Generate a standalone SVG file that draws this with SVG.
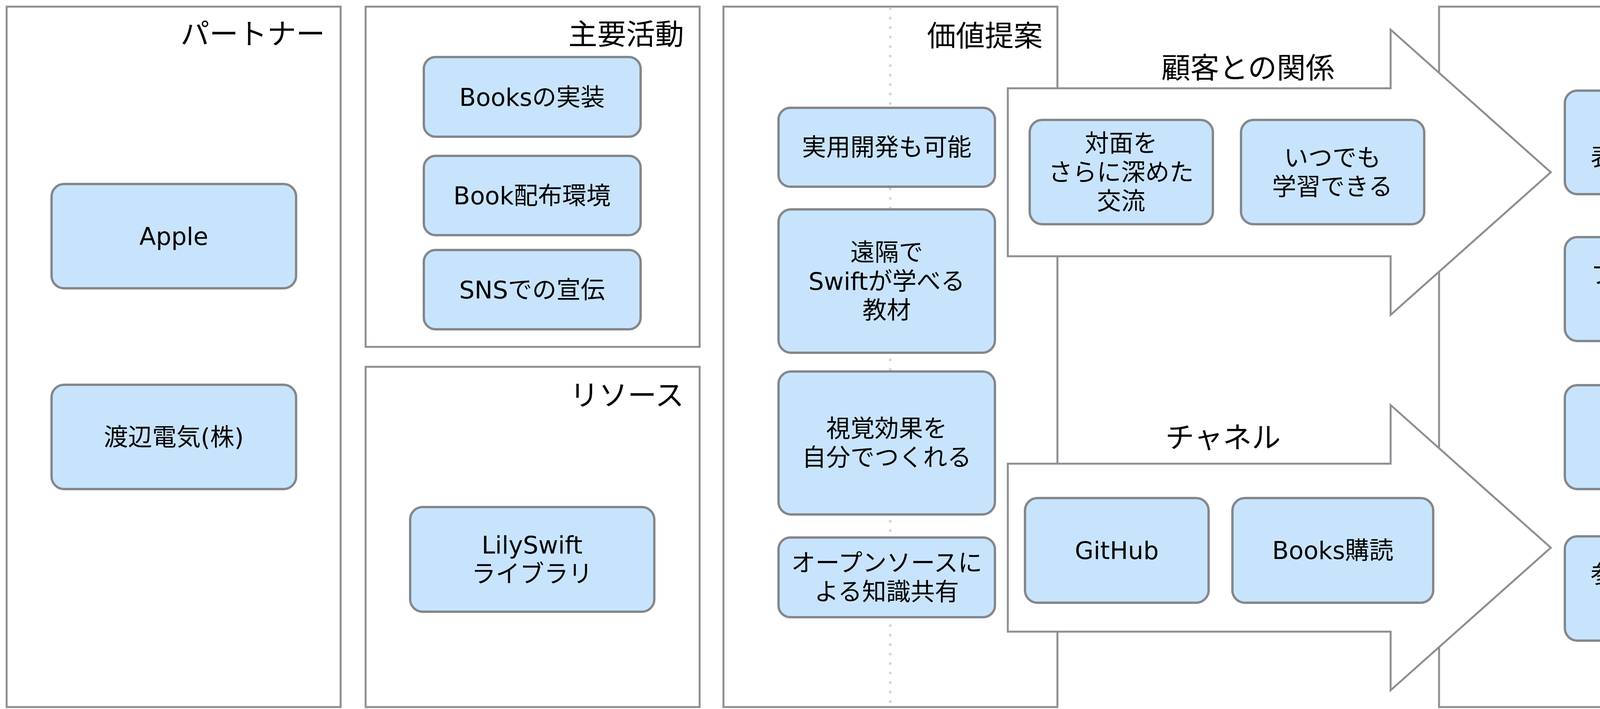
<svg xmlns="http://www.w3.org/2000/svg" width="4557" height="1815" viewBox="0 0 4557 1815">
<style>
.box{fill:#ffffff;stroke:#8c8f94;stroke-width:5}
.node{fill:#c8e4fd;stroke:#84878c;stroke-width:6}
.arrow{fill:#ffffff;stroke:#8c8f94;stroke-width:5;stroke-linejoin:miter}
.t{font-family:"DejaVu Sans","Noto Sans CJK JP",sans-serif;font-size:62px;fill:#000;text-anchor:middle}
.h{font-family:"Noto Sans CJK JP","DejaVu Sans",sans-serif;font-size:74px;fill:#000;text-anchor:end}
.hm{text-anchor:middle}
.dots{stroke:#d4d6d9;stroke-width:7;stroke-linecap:round;stroke-dasharray:0.1 24.2;fill:none}
</style>
<rect width="4557" height="1815" fill="#ffffff"/>
<g id="containers">
<g id="partners"><rect class="box" x="17" y="17" width="855" height="1793"/><text class="h" x="832" y="113">パートナー</text></g>
<g id="activities"><rect class="box" x="936" y="17" width="855" height="871"/><text class="h" x="1751" y="114">主要活動</text></g>
<g id="resources"><rect class="box" x="936" y="939" width="855" height="871"/><text class="h" x="1751" y="1038">リソース</text></g>
<g id="value"><rect class="box" x="1852" y="17" width="855" height="1793"/><text class="h" x="2669" y="118">価値提案</text></g>
<g id="customers"><rect class="box" x="3684" y="17" width="856" height="1793"/><text class="h" x="4498" y="114">顧客</text></g>
</g>
<path class="dots" d="M2279 22 V1806"/>
<g id="connectors">
<g id="relationship"><polygon class="arrow" points="2580,226 3560,226 3560,76 3970,441 3560,806 3560,656 2580,656"/><text class="h hm" x="3195" y="200">顧客との関係</text></g>
<g id="channels"><polygon class="arrow" points="2580,1187 3560,1187 3560,1037 3970,1402 3560,1767 3560,1617 2580,1617"/><text class="h hm" x="3131" y="1146">チャネル</text></g>
</g>
<g id="n-apple"><rect class="node" x="132" y="471" width="626" height="267" rx="32"/><text class="t" x="445" y="627">Apple</text></g>
<g id="n-watanabe"><rect class="node" x="132" y="985" width="626" height="267" rx="32"/><text class="t" x="445" y="1141">渡辺電気(株)</text></g>
<g id="n-books-impl"><rect class="node" x="1085" y="146" width="555" height="204" rx="30"/><text class="t" x="1362" y="271">Booksの実装</text></g>
<g id="n-book-dist"><rect class="node" x="1085" y="399" width="555" height="203" rx="30"/><text class="t" x="1362" y="523">Book配布環境</text></g>
<g id="n-sns"><rect class="node" x="1085" y="640" width="555" height="203" rx="30"/><text class="t" x="1362" y="764">SNSでの宣伝</text></g>
<g id="n-lilyswift"><rect class="node" x="1050" y="1298" width="625" height="268" rx="32"/><text class="t" x="1362" y="1417">LilySwift</text><text class="t" x="1362" y="1491">ライブラリ</text></g>
<g id="n-practical"><rect class="node" x="1993" y="276" width="554" height="202" rx="30"/><text class="t" x="2270" y="399">実用開発も可能</text></g>
<g id="n-remote"><rect class="node" x="1993" y="536" width="554" height="367" rx="32"/><text class="t" x="2270" y="668">遠隔で</text><text class="t" x="2270" y="742">Swiftが学べる</text><text class="t" x="2270" y="816">教材</text></g>
<g id="n-visual"><rect class="node" x="1993" y="951" width="554" height="366" rx="32"/><text class="t" x="2270" y="1119">視覚効果を</text><text class="t" x="2270" y="1193">自分でつくれる</text></g>
<g id="n-oss"><rect class="node" x="1993" y="1376" width="554" height="204" rx="30"/><text class="t" x="2270" y="1463">オープンソースに</text><text class="t" x="2270" y="1537">よる知識共有</text></g>
<g id="n-face"><rect class="node" x="2636" y="307" width="469" height="267" rx="32"/><text class="t" x="2870" y="389">対面を</text><text class="t" x="2870" y="463">さらに深めた</text><text class="t" x="2870" y="537">交流</text></g>
<g id="n-anytime"><rect class="node" x="3177" y="307" width="469" height="267" rx="32"/><text class="t" x="3411" y="426">いつでも</text><text class="t" x="3411" y="500">学習できる</text></g>
<g id="n-github"><rect class="node" x="2624" y="1275" width="470" height="268" rx="32"/><text class="t" x="2859" y="1431">GitHub</text></g>
<g id="n-books-sub"><rect class="node" x="3155" y="1275" width="514" height="268" rx="32"/><text class="t" x="3412" y="1431">Books購読</text></g>
<g id="n-c1"><rect class="node" x="4006" y="232" width="505" height="265" rx="32"/><text class="t" x="4258" y="350">視覚効果で</text><text class="t" x="4258" y="424">表現を志す人</text></g>
<g id="n-c2"><rect class="node" x="4006" y="607" width="505" height="266" rx="32"/><text class="t" x="4258" y="725">プログラムを</text><text class="t" x="4258" y="799">始めたい人</text></g>
<g id="n-c3"><rect class="node" x="4006" y="986" width="505" height="266" rx="32"/><text class="t" x="4258" y="1104">App開発を</text><text class="t" x="4258" y="1178">したい人</text></g>
<g id="n-c4"><rect class="node" x="4006" y="1373" width="505" height="267" rx="32"/><text class="t" x="4258" y="1492">参考コードが</text><text class="t" x="4258" y="1566">欲しい人</text></g>
</svg>
